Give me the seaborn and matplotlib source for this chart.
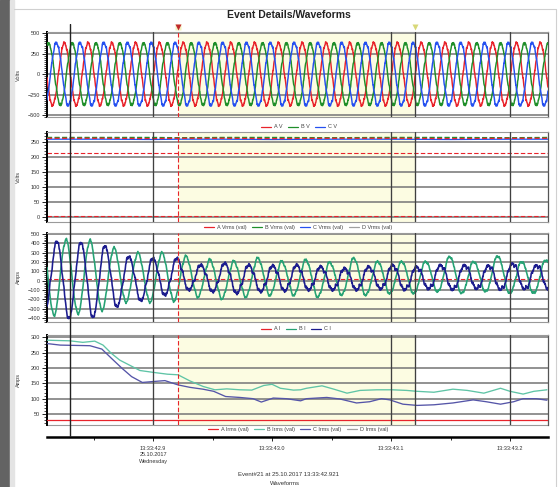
import numpy as np
import pandas as pd
import matplotlib
matplotlib.use("Agg")
import matplotlib.pyplot as plt
import seaborn as sns
from matplotlib.ticker import FixedLocator, AutoMinorLocator
from matplotlib.lines import Line2D
from matplotlib.patches import Rectangle

# ------------------------------------------------------------------ data
T_START = 42.8109          # seconds after 13:33:00
T_END = 43.2319
EVENT_T = 42.921
CURSOR_T = 42.8303
END_T = 43.120
GRID_T = [42.9, 43.1, 43.2]
XTICKS = [42.9, 43.0, 43.1, 43.2]
XMINOR = [42.85, 42.95, 43.05, 43.15]
XTICK_LABELS = ["13:33:42.9\n25.10.2017\nWednesday", "13:33:43.0", "13:33:43.1", "13:33:43.2"]

FREQ = 50.0
# phase voltages: peak amplitude and time of one peak
V_NAMES = ["A V", "B V", "C V"]
V_PEAK = [380, 378, 382]
V_PEAK_TIME = [42.9255, 42.9322, 42.9188]
V_RIPPLE_HARM = [5, 7, 11, 13, 23, 29, 37]
V_RIPPLE_AMP = [8, 6, 5, 5, 6, 5, 4]
V_RIPPLE_PHASE = [0.3, 1.1, 2.0, 0.7, 2.6, 1.6, 0.2]

# RMS voltages
VRMS_T = [42.811, 42.86, 42.90, 42.921, 42.96, 43.00, 43.05, 43.10, 43.15, 43.20, 43.232]
A_VRMS = [262, 262, 261, 262, 262, 261, 262, 262, 261, 262, 262]
B_VRMS = [265, 265, 265, 264, 265, 265, 264, 265, 265, 264, 265]
C_VRMS = [259, 259, 258, 259, 259, 258, 259, 259, 258, 259, 259]
D_VRMS = [263, 263, 263, 263, 264, 263, 263, 263, 264, 263, 263]
VRMS_LIMITS = [214, 2]

# phase currents: successive half-cycle extrema
HALF_PERIOD = 0.01008
BI_T0 = 42.8067
BI_EXT = [430, -368, 436, -350, 429, -314, 346, -225, 293, -225, 293, -214,
          257, -171, 221, -189, 204, -171, 239, -154, 204, -154, 221, -171,
          193, -150, 239, -154, 204, -136, 204, -136, 204, -118, 257, -136,
          204, -118, 264, -136, 204, -136, 221, -130]
CI_T0 = 42.8092
CI_EXT = [-330, 418, -404, 407, -393, 371, -279, 257, -214, 239, -154, 239,
          -100, 168, -118, 186, -136, 168, -118, 160, -110, 168, -100, 150,
          -100, 132, -100, 150, -90, 168, -100, 150, -90, 168, -100, 168,
          -90, 164, -100, 186, -95, 168, -100, 160]
I_RIPPLE_HARM = [3, 5, 9, 17, 27]
I_RIPPLE_AMP = [10, 12, 8, 7, 6]
I_RIPPLE_PHASE = [0.5, 2.2, 1.3, 0.4, 2.9]
AI_T = [42.811, 43.232]
AI_VAL = [20, 20]

# RMS currents
BIRMS_T = [42.811, 42.830, 42.841, 42.851, 42.858, 42.865, 42.872, 42.881, 42.889,
           42.900, 42.912, 42.921, 42.931, 42.942, 42.952, 42.962, 42.973, 42.983,
           42.993, 43.000, 43.007, 43.018, 43.024, 43.029, 43.042, 43.052, 43.063,
           43.074, 43.088, 43.101, 43.113, 43.122, 43.136, 43.152, 43.164, 43.178,
           43.192, 43.200, 43.211, 43.220, 43.231]
BIRMS = [291, 289, 284, 288, 275, 248, 226, 208, 192, 186, 180, 178, 158, 140, 129,
         132, 129, 128, 143, 147, 134, 128, 129, 134, 142, 131, 118, 127, 129, 129,
         127, 124, 121, 131, 127, 118, 134, 124, 115, 124, 129]
CIRMS_T = [42.811, 42.822, 42.847, 42.857, 42.865, 42.874, 42.882, 42.891, 42.900,
           42.910, 42.921, 42.931, 42.942, 42.951, 42.961, 42.973, 42.984, 42.991,
           43.001, 43.012, 43.024, 43.029, 43.046, 43.057, 43.071, 43.082, 43.092,
           43.099, 43.110, 43.122, 43.136, 43.152, 43.169, 43.180, 43.192, 43.203,
           43.211, 43.222, 43.231]
CIRMS = [280, 275, 273, 262, 232, 199, 172, 153, 156, 159, 145, 137, 131, 124, 107,
         104, 100, 89, 102, 100, 93, 100, 104, 99, 86, 90, 100, 96, 82, 78, 80, 86,
         96, 90, 82, 90, 100, 100, 95]
AIRMS_T = [42.811, 43.232]
AIRMS = [30, 30]

# ------------------------------------------------------------------ styling
RED = "#e8232b"
YELLOW = "#fcfce2"
GRID = "#7a7a7a"
VGRID = "#404040"
C_V = {"A V": "#e8232b", "B V": "#1f8f2a", "C V": "#2550f0"}
C_I = {"B I": "#26a274", "C I": "#1c1c8e"}
C_IRMS = {"B": "#5fc4a6", "C": "#5555a8"}

sns.set_theme(style="white")
plt.rcParams['font.family'] = ['Liberation Sans', 'DejaVu Sans']

W, H = 558, 487
fig = plt.figure(figsize=(W / 100, H / 100), dpi=100)
fig.patch.set_facecolor("white")


def fx(px):
    return px / W


def fy(py):
    return 1 - py / H


fig.patches.append(Rectangle((0, 0), fx(10), 1, transform=fig.transFigure,
                             color="#636363", zorder=0))
fig.patches.append(Rectangle((fx(10), 0), fx(3.5), 1, transform=fig.transFigure,
                             color="#e4e4e4", zorder=0))
fig.add_artist(Line2D([fx(13.5), fx(556)], [fy(9), fy(9)], color="#d0d0d0", lw=0.8))
fig.add_artist(Line2D([fx(556), fx(556)], [fy(9), 0], color="#d0d0d0", lw=0.8))

L, R = 47, 548
boxes = [(32.3, 117), (132, 222), (232.7, 321.7), (335, 425)]
axes = [fig.add_axes([fx(L), fy(b), fx(R) - fx(L), (b - t) / H]) for t, b in boxes]


def style(ax, ylim, ticks, minor_n, label):
    ax.set_xlim(T_START, T_END)
    ax.set_ylim(*ylim)
    ax.set_facecolor("white")
    ax.axvspan(EVENT_T, END_T, color=YELLOW, zorder=0, lw=0)
    for y in ticks:
        ax.axhline(y, color=GRID, lw=1.15, zorder=1)
    for x in GRID_T:
        ax.axvline(x, color=VGRID, lw=0.95, zorder=6)
    ax.axvline(END_T, color=VGRID, lw=0.95, zorder=6)
    ax.axvline(EVENT_T, color=RED, lw=0.8, ls=(0, (4, 2)), zorder=6)
    ax.yaxis.set_major_locator(FixedLocator(ticks))
    ax.yaxis.set_minor_locator(AutoMinorLocator(minor_n))
    ax.tick_params(axis="y", which="major", left=True, length=3.5, width=0.6,
                   labelsize=4, pad=1.5, color="black", labelcolor="#333333",
                   direction="out")
    ax.tick_params(axis="y", which="minor", left=True, length=2.2, width=0.5,
                   color="black", direction="out")
    ax.xaxis.set_major_locator(FixedLocator(XTICKS))
    ax.tick_params(axis="x", which="both", bottom=False, labelbottom=False)
    ax.spines["left"].set_color("black")
    ax.spines["left"].set_linewidth(1.4)
    ax.spines["right"].set_color("#555555")
    ax.spines["right"].set_linewidth(0.9)
    ax.spines["top"].set_color("#9a9a9a")
    ax.spines["bottom"].set_color("#9a9a9a")
    ax.spines["top"].set_linewidth(0.8)
    ax.spines["bottom"].set_linewidth(0.8)
    ax.set_xlabel("")
    ax.set_ylabel(label, fontsize=4, color="#333333")
    ax.yaxis.set_label_coords(-0.052, 0.5)


t = np.linspace(T_START, T_END, 5000)


def ripple(tt, harm, amp, phase):
    out = np.zeros_like(tt)
    for h, a, p in zip(harm, amp, phase):
        out += a * np.sin(2 * np.pi * FREQ * h * tt + p)
    return out


def from_extrema(tt, t0, half, values):
    vals = np.asarray(values, dtype=float)
    k = np.clip(np.floor((tt - t0) / half).astype(int), 0, len(vals) - 2)
    frac = (tt - t0 - k * half) / half
    v0, v1 = vals[k], vals[k + 1]
    return (v0 + v1) / 2 + (v0 - v1) / 2 * np.cos(np.pi * frac)


# ---- panel 1: voltage waveforms
ax1 = axes[0]
frames = []
for i, (name, amp, tp) in enumerate(zip(V_NAMES, V_PEAK, V_PEAK_TIME)):
    v = amp * np.cos(2 * np.pi * FREQ * (t - tp)) + ripple(
        t + i * 0.0013, V_RIPPLE_HARM, V_RIPPLE_AMP, V_RIPPLE_PHASE)
    frames.append(pd.DataFrame({"t": t, "v": v, "phase": name}))
dfv = pd.concat(frames)
sns.lineplot(data=dfv, x="t", y="v", hue="phase", palette=C_V, estimator=None,
             legend=False, lw=1.05, ax=ax1, zorder=3)
style(ax1, (-525, 512), [500, 250, 0, -250, -500], 10, "Volts")

# ---- panel 2: RMS voltages
ax2 = axes[1]
for vals, col, ls in [(D_VRMS, "#a07cc8", (0, (4, 2))), (B_VRMS, "#1f8f2a", (0, (4, 2))),
                      (C_VRMS, "#2550f0", "-"), (A_VRMS, RED, (0, (4, 2)))]:
    sns.lineplot(x=VRMS_T, y=vals, color=col, lw=0.9, ls=ls, ax=ax2,
                 estimator=None, legend=False, zorder=3)
for lim in VRMS_LIMITS:
    ax2.axhline(lim, color=RED, lw=0.8, ls=(0, (4, 2)), zorder=2)
style(ax2, (-17, 283), [250, 200, 150, 100, 50, 0], 5, "Volts")

# ---- panel 3: current waveforms
ax3 = axes[2]
bi = from_extrema(t, BI_T0, HALF_PERIOD, BI_EXT) + 0.6 * ripple(
    t, I_RIPPLE_HARM, I_RIPPLE_AMP, I_RIPPLE_PHASE)
ci = from_extrema(t, CI_T0, HALF_PERIOD, CI_EXT) + ripple(
    t + 0.0021, I_RIPPLE_HARM, I_RIPPLE_AMP, I_RIPPLE_PHASE)
dfi = pd.concat([pd.DataFrame({"t": t, "v": bi, "phase": "B I"}),
                 pd.DataFrame({"t": t, "v": ci, "phase": "C I"})])
sns.lineplot(x=AI_T, y=AI_VAL, color=RED, lw=0.8, ls=(0, (4, 2)), ax=ax3,
             estimator=None, legend=False, zorder=2)
sns.lineplot(data=dfi, x="t", y="v", hue="phase", palette=C_I, estimator=None,
             legend=False, lw=1.15, ax=ax3, zorder=3)
style(ax3, (-440, 514), [500, 400, 300, 200, 100, 0, -100, -200, -300, -400], 5, "Amps")

# ---- panel 4: RMS currents
ax4 = axes[3]
sns.lineplot(x=AIRMS_T, y=AIRMS, color=RED, lw=0.9, ax=ax4, estimator=None,
             legend=False, zorder=3)
sns.lineplot(x=BIRMS_T, y=BIRMS, color=C_IRMS["B"], lw=0.95, ax=ax4,
             estimator=None, legend=False, zorder=3)
sns.lineplot(x=CIRMS_T, y=CIRMS, color=C_IRMS["C"], lw=0.95, ax=ax4,
             estimator=None, legend=False, zorder=3)
style(ax4, (14, 308), [300, 250, 200, 150, 100, 50], 5, "Amps")
ax4.plot([0, 1], [0, 0], transform=ax4.transAxes, color="#9a9a9a", lw=0.8,
         clip_on=False)
ax4.spines["bottom"].set_position(("outward", 8.6))
ax4.spines["bottom"].set_color("black")
ax4.spines["bottom"].set_linewidth(1.8)
ax4.xaxis.set_major_locator(FixedLocator(XTICKS))
ax4.xaxis.set_minor_locator(FixedLocator(XMINOR))
ax4.set_xticklabels(XTICK_LABELS)
ax4.tick_params(axis="x", which="major", bottom=True, labelbottom=True, length=3,
                width=0.6, labelsize=4, pad=3.5, color="black", labelcolor="#333333",
                direction="out")
ax4.tick_params(axis="x", which="minor", bottom=True, length=2.5, width=0.6,
                color="black", direction="out")
for lab in ax4.get_xticklabels():
    lab.set_linespacing(1.35)
    lab.set_va("top")

# ---- overlay: cursor line and top markers
ov = fig.add_axes([fx(L), fy(437), fx(R) - fx(L), (437 - 24) / H], zorder=10)
ov.set_xlim(T_START, T_END)
ov.set_ylim(0, 1)
ov.axis("off")
ov.patch.set_alpha(0)
ov.axvline(CURSOR_T, color="#222222", lw=1.0)
ov.plot([EVENT_T], [0.992], marker="s", ms=4.5, color="#f4f0c0", mec="none")
ov.plot([EVENT_T], [0.992], marker="v", ms=3.8, color="#c0282a", mec="none")
ov.plot([END_T], [0.992], marker="v", ms=3.8, color="#d8d878", mec="none")


# ---- legends
def legend(items, cx, cy):
    handles = [Line2D([0], [0], color=c, lw=0.9) for _, c in items]
    fig.legend(handles, [n for n, _ in items], loc="center",
               bbox_to_anchor=(fx(cx), fy(cy)), ncol=len(items), frameon=False,
               fontsize=4, handlelength=1.8, handletextpad=0.5, columnspacing=1.0,
               labelcolor="#444444", borderpad=0, borderaxespad=0)


legend([("A V", C_V["A V"]), ("B V", C_V["B V"]), ("C V", C_V["C V"])], 299, 127)
legend([("A Vrms (val)", RED), ("B Vrms (val)", "#1f8f2a"), ("C Vrms (val)", "#2550f0"),
        ("D Vrms (val)", "#a0a0a0")], 298, 227.5)
legend([("A I", RED), ("B I", C_I["B I"]), ("C I", C_I["C I"])], 296, 329)
legend([("A Irms (val)", RED), ("B Irms (val)", C_IRMS["B"]),
        ("C Irms (val)", C_IRMS["C"]), ("D Irms (val)", "#a0a0a0")], 298, 429.5)

# ---- texts
fig.text(fx(289), fy(15.5), "Event Details/Waveforms", fontsize=7.5,
         fontweight="bold", ha="center", va="center", color="#222222")
fig.text(fx(288), fy(475), "Event#21 at 25.10.2017 13:33:42.921", fontsize=4.3,
         ha="center", va="center", color="#333333")
fig.text(fx(285), fy(483.5), "Waveforms", fontsize=4.3, ha="center", va="center",
         color="#333333")

fig.savefig("out.png", dpi=100, facecolor="white")
